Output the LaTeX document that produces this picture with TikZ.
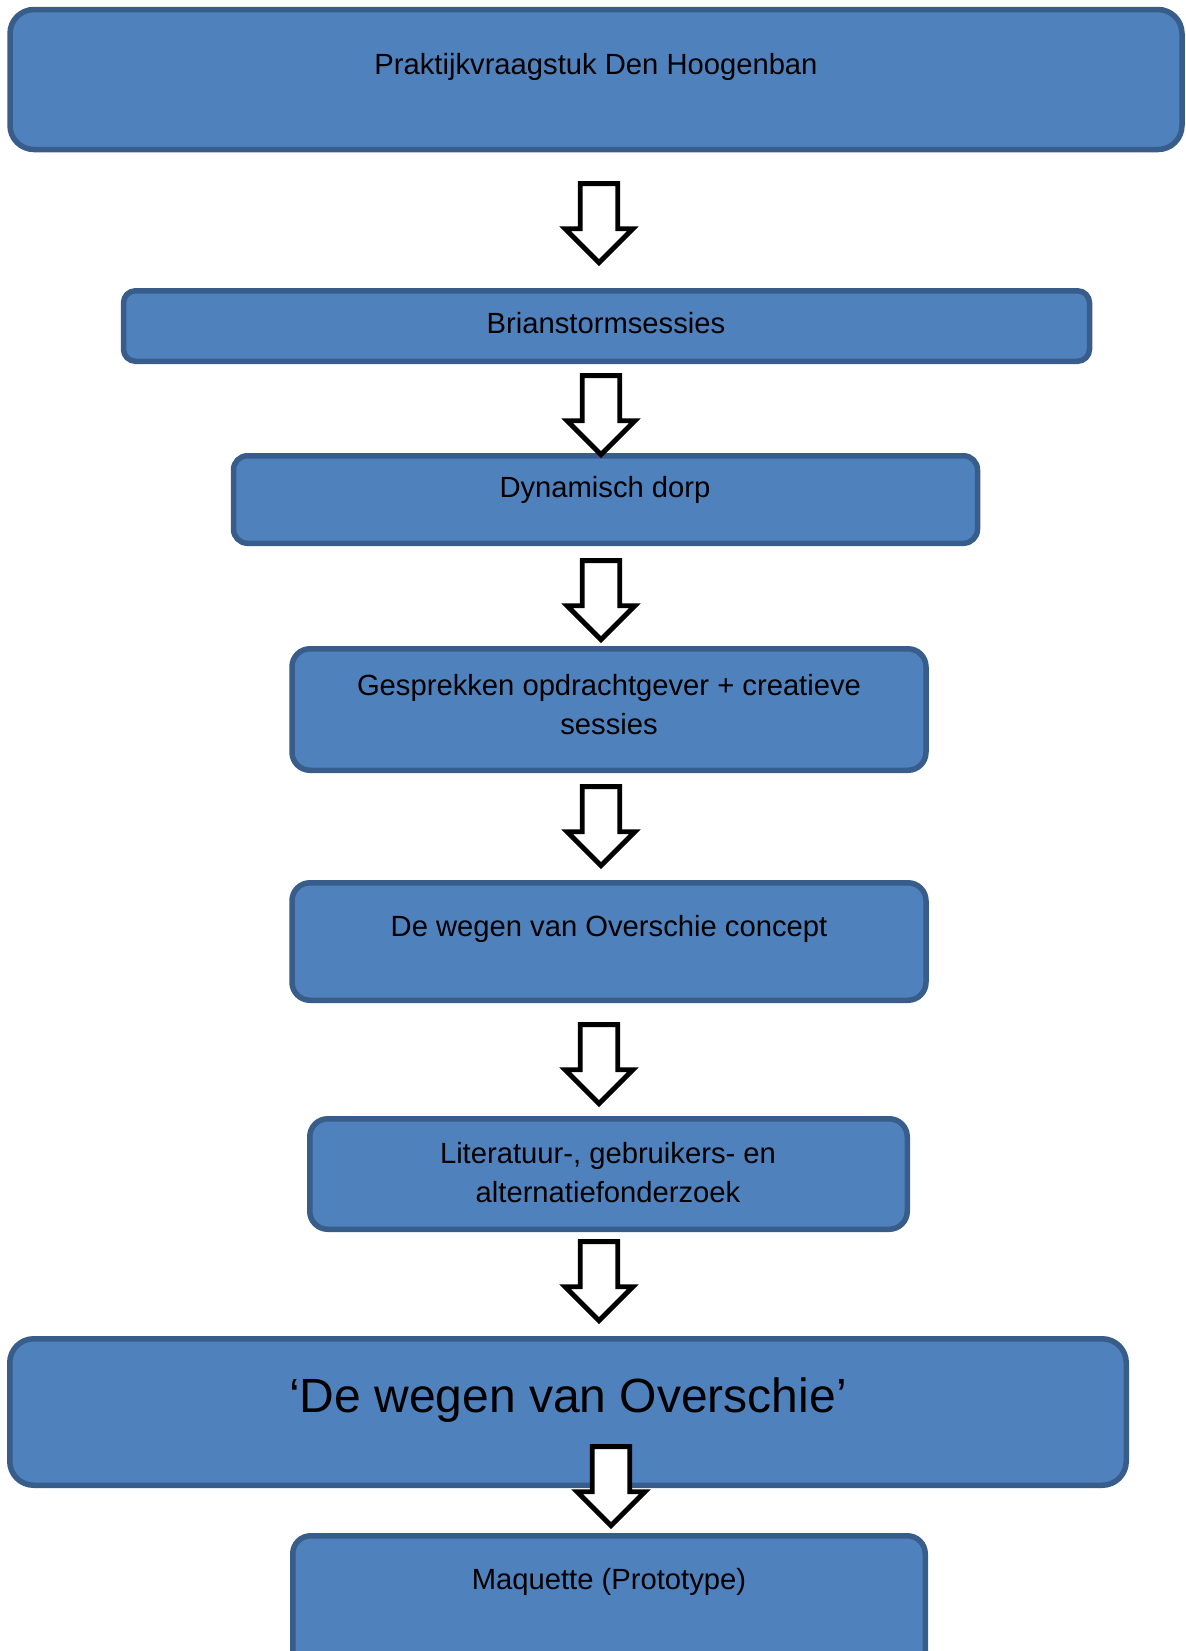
\documentclass[tikz,border=0pt]{standalone}
\usepackage{fontspec}
\setmainfont{Liberation Sans}
\usepackage{tikz}
\usetikzlibrary{shapes.arrows}
\usepackage{xcolor}
\definecolor{boxblue}{HTML}{4F81BD}
\definecolor{boxedge}{HTML}{385D8A}

\begin{document}
\begin{tikzpicture}[x=0.5pt,y=-0.5pt,
  stage/.style={draw=boxedge,fill=boxblue,line width=2.75pt,inner sep=0pt,outer sep=0pt},
  stagetext/.style={font=\fontsize{14.6}{19.5}\selectfont,align=center,inner sep=0pt},
  blockarrow/.style={shape=single arrow,draw=black,fill=white,line width=2.4pt,rotate=-90,anchor=tip,
    inner xsep=0pt,inner ysep=8.2pt,minimum height=39.5pt,single arrow head extend=7.5pt}]
  \clip (0,0) rectangle (1186,1651);

  % stappen
  \node[stage,minimum width=586pt,minimum height=70pt,rounded corners=12pt]      (vraag)   at (596,79.5)   {};
  \node[stage,minimum width=483pt,minimum height=35.25pt,rounded corners=6pt]    (brain)   at (606.5,326)  {};
  \node[stage,minimum width=372pt,minimum height=43.75pt,rounded corners=7pt]    (dorp)    at (605.5,499.5) {};
  \node[stage,minimum width=317pt,minimum height=60.75pt,rounded corners=9pt]    (gesprek) at (609,709.5)  {};
  \node[stage,minimum width=317pt,minimum height=58.75pt,rounded corners=9pt]    (concept) at (609,941.5)  {};
  \node[stage,minimum width=298.75pt,minimum height=55.25pt,rounded corners=9pt] (onderz)  at (608.5,1174) {};
  \node[stage,minimum width=558.25pt,minimum height=73.25pt,rounded corners=12pt] (wegen)  at (568,1412)   {};
  \node[stage,minimum width=316.25pt,minimum height=81.25pt,rounded corners=9pt] (maq)     at (609,1617)   {};

  % teksten
  \node[stagetext] (vraag-t)   at (596,67)   {Praktijkvraagstuk Den Hoogenban};
  \node[stagetext] (brain-t)   at (606,323)  {Brianstormsessies};
  \node[stagetext] (dorp-t)    at (605,490)  {Dynamisch dorp};
  \node[stagetext] (gesprek-t) at (609,705)  {Gesprekken opdrachtgever + creatieve\\sessies};
  \node[stagetext] (concept-t) at (609,929)  {De wegen van Overschie concept};
  \node[stagetext] (onderz-t)  at (608,1173) {Literatuur-, gebruikers- en\\alternatiefonderzoek};
  \node[stagetext,font=\fontsize{24}{28}\selectfont] (wegen-t) at (568,1400) {‘De wegen van Overschie’};
  \node[stagetext] (maq-t)     at (609,1582) {Maquette (Prototype)};

  % pijlen (geplaatst op de punt)
  \node[blockarrow] (a1) at (599,266)  {};
  \node[blockarrow] (a2) at (601,458)  {};
  \node[blockarrow] (a3) at (601,643)  {};
  \node[blockarrow] (a4) at (601,869)  {};
  \node[blockarrow] (a5) at (599,1107) {};
  \node[blockarrow] (a6) at (599,1324) {};
  \node[blockarrow] (a7) at (611,1529) {};
\end{tikzpicture}
\end{document}
